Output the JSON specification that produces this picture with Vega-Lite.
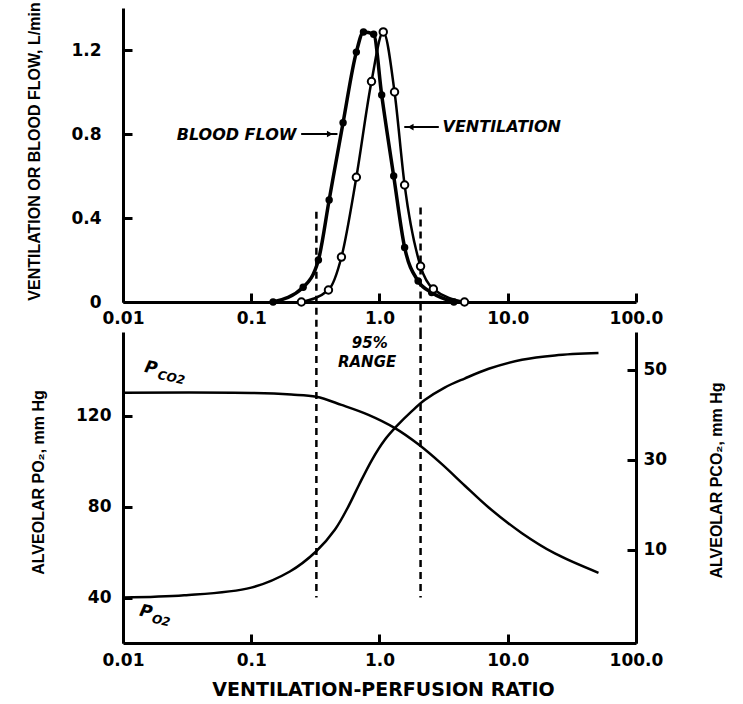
{
  "$schema": "https://vega.github.io/schema/vega-lite/v6.json",
  "autosize": {"type": "pad"},
  "padding": {"left": 25, "top": 1, "right": 5, "bottom": 5},
  "background": "white",
  "spacing": 30,
  "bounds": "flush",
  "config": {
    "view": {"stroke": null},
    "axis": {
      "domainColor": "black", "domainWidth": 3, "tickColor": "black", "tickWidth": 3, "tickSize": -9,
      "labelFont": "DejaVu Sans", "labelFontWeight": "bold", "labelFontSize": 17, "labelColor": "black",
      "titleFont": "Liberation Sans", "titleFontWeight": "bold", "titleFontSize": 16, "titleColor": "black",
      "grid": false
    }
  },
  "datasets": {
    "blood": [
      {"r": 0.148, "v": 0.0}, {"r": 0.254, "v": 0.07}, {"r": 0.334, "v": 0.2}, {"r": 0.405, "v": 0.486},
      {"r": 0.52, "v": 0.854}, {"r": 0.66, "v": 1.19}, {"r": 0.75, "v": 1.286}, {"r": 0.9, "v": 1.275},
      {"r": 1.04, "v": 0.986}, {"r": 1.29, "v": 0.6}, {"r": 1.57, "v": 0.26}, {"r": 2.0, "v": 0.1},
      {"r": 2.55, "v": 0.045}, {"r": 3.8, "v": 0.0}
    ],
    "vent": [
      {"r": 0.246, "v": 0.0}, {"r": 0.4, "v": 0.057}, {"r": 0.505, "v": 0.214}, {"r": 0.66, "v": 0.594},
      {"r": 0.866, "v": 1.05}, {"r": 1.07, "v": 1.286}, {"r": 1.31, "v": 1.0}, {"r": 1.57, "v": 0.557},
      {"r": 2.09, "v": 0.17}, {"r": 2.63, "v": 0.062}, {"r": 4.6, "v": 0.0}
    ],
    "po2": [
      {"r": 0.01, "y": 40}, {"r": 0.03, "y": 41}, {"r": 0.1, "y": 44.4}, {"r": 0.2, "y": 51.5},
      {"r": 0.32, "y": 60.3}, {"r": 0.45, "y": 70}, {"r": 0.57, "y": 80}, {"r": 0.69, "y": 89.5},
      {"r": 0.87, "y": 100.5}, {"r": 1.09, "y": 109.2}, {"r": 1.36, "y": 115.5}, {"r": 1.78, "y": 122},
      {"r": 2.25, "y": 127}, {"r": 3.22, "y": 132.5}, {"r": 4.61, "y": 136.5}, {"r": 7.1, "y": 140.8},
      {"r": 12.9, "y": 144.8}, {"r": 23.3, "y": 146.7}, {"r": 51, "y": 147.7}
    ],
    "pco2": [
      {"r": 0.01, "c": 44.9}, {"r": 0.1, "c": 44.85}, {"r": 0.205, "c": 44.5}, {"r": 0.322, "c": 44.0},
      {"r": 0.505, "c": 42.2}, {"r": 0.82, "c": 40.0}, {"r": 1.31, "c": 37.1}, {"r": 2.02, "c": 33.4},
      {"r": 3.05, "c": 29.1}, {"r": 4.61, "c": 24.3}, {"r": 7.1, "c": 19.4}, {"r": 12.9, "c": 13.7},
      {"r": 23.3, "c": 9.2}, {"r": 51, "c": 4.9}
    ],
    "rangeTop": [{"r": 0.322, "v": 0.43}, {"r": 2.09, "v": 0.45}],
    "rangeBottom": [{"r": 0.322}, {"r": 2.09}],
    "arrows": [{"r": 0.245, "r2": 0.47, "v": 0.8}, {"r": 1.56, "r2": 2.9, "v": 0.833}],
    "bloodLabel": [{"r": 0.225, "v": 0.795, "label": "BLOOD FLOW"}],
    "ventLabel": [{"r": 3.1, "v": 0.833, "label": "VENTILATION"}],
    "headRight": [{"r": 0.41, "v": 0.8}],
    "headLeft": [{"r": 1.75, "v": 0.833}],
    "rangeLabel": [{"r": 0.84, "y": 152.2, "label": "95%"}, {"r": 0.8, "y": 143.8, "label": "RANGE"}],
    "pLabel": [{"r": 0.0165, "y": 141.1, "label": "P"}, {"r": 0.0151, "y": 33.7, "label": "P"}],
    "subLabel": [{"r": 0.0238, "y": 136.9, "label": "CO2"}, {"r": 0.0198, "y": 29.9, "label": "O2"}]
  },
  "vconcat": [
    {
      "width": 513, "height": 294,
      "layer": [
        {
          "data": {"name": "blood"},
          "mark": {"type": "line", "interpolate": "monotone", "color": "black", "strokeWidth": 3.5},
          "encoding": {
            "x": {"field": "r", "type": "quantitative", "scale": {"type": "log", "domain": [0.01, 100]},
                  "axis": {"title": null, "values": [0.01, 0.1, 1, 10, 100], "labelExpr": "datum.value < 1 ? toString(datum.value) : format(datum.value, '.1f')", "labelPadding": 17, "labelFlush": false}},
            "y": {"field": "v", "type": "quantitative", "scale": {"domain": [0, 1.4], "nice": false},
                  "axis": {"title": "VENTILATION OR BLOOD FLOW, L/min", "values": [0, 0.4, 0.8, 1.2], "labelExpr": "datum.value == 0 ? '0' : format(datum.value, '.1f')", "labelPadding": 31,
                           "titleX": -89, "titleY": 143, "titleAngle": -90, "titleAlign": "center", "titleBaseline": "middle"}}
          }
        },
        {
          "data": {"name": "vent"},
          "mark": {"type": "line", "interpolate": "monotone", "color": "black", "strokeWidth": 2.5},
          "encoding": {
            "x": {"field": "r", "type": "quantitative", "scale": {"type": "log", "domain": [0.01, 100]}},
            "y": {"field": "v", "type": "quantitative", "scale": {"domain": [0, 1.4], "nice": false}}
          }
        },
        {
          "data": {"name": "rangeTop"},
          "mark": {"type": "rule", "color": "black", "strokeWidth": 2.5, "strokeDash": [7, 5]},
          "encoding": {
            "x": {"field": "r", "type": "quantitative", "scale": {"type": "log", "domain": [0.01, 100]}},
            "y": {"field": "v", "type": "quantitative", "scale": {"domain": [0, 1.4], "nice": false}},
            "y2": {"datum": -0.143}
          }
        },
        {
          "data": {"name": "blood"},
          "mark": {"type": "point", "filled": true, "color": "black", "size": 55, "opacity": 1},
          "encoding": {
            "x": {"field": "r", "type": "quantitative", "scale": {"type": "log", "domain": [0.01, 100]}},
            "y": {"field": "v", "type": "quantitative", "scale": {"domain": [0, 1.4], "nice": false}}
          }
        },
        {
          "data": {"name": "vent"},
          "mark": {"type": "point", "filled": true, "fill": "white", "stroke": "black", "strokeWidth": 2, "size": 55, "opacity": 1},
          "encoding": {
            "x": {"field": "r", "type": "quantitative", "scale": {"type": "log", "domain": [0.01, 100]}},
            "y": {"field": "v", "type": "quantitative", "scale": {"domain": [0, 1.4], "nice": false}}
          }
        },
        {
          "data": {"name": "arrows"},
          "mark": {"type": "rule", "color": "black", "strokeWidth": 2},
          "encoding": {
            "x": {"field": "r", "type": "quantitative", "scale": {"type": "log", "domain": [0.01, 100]}},
            "x2": {"field": "r2"},
            "y": {"field": "v", "type": "quantitative", "scale": {"domain": [0, 1.4], "nice": false}}
          }
        },
        {
          "data": {"name": "headRight"},
          "mark": {"type": "point", "shape": "triangle-right", "filled": true, "color": "black", "size": 45, "opacity": 1},
          "encoding": {
            "x": {"field": "r", "type": "quantitative", "scale": {"type": "log", "domain": [0.01, 100]}},
            "y": {"field": "v", "type": "quantitative", "scale": {"domain": [0, 1.4], "nice": false}}
          }
        },
        {
          "data": {"name": "headLeft"},
          "mark": {"type": "point", "shape": "triangle-left", "filled": true, "color": "black", "size": 45, "opacity": 1},
          "encoding": {
            "x": {"field": "r", "type": "quantitative", "scale": {"type": "log", "domain": [0.01, 100]}},
            "y": {"field": "v", "type": "quantitative", "scale": {"domain": [0, 1.4], "nice": false}}
          }
        },
        {
          "data": {"name": "bloodLabel"},
          "mark": {"type": "text", "align": "right", "baseline": "middle", "font": "DejaVu Sans", "fontWeight": "bold", "fontStyle": "italic", "fontSize": 16, "color": "black"},
          "encoding": {
            "x": {"field": "r", "type": "quantitative", "scale": {"type": "log", "domain": [0.01, 100]}},
            "y": {"field": "v", "type": "quantitative", "scale": {"domain": [0, 1.4], "nice": false}},
            "text": {"field": "label"}
          }
        },
        {
          "data": {"name": "ventLabel"},
          "mark": {"type": "text", "align": "left", "baseline": "middle", "font": "DejaVu Sans", "fontWeight": "bold", "fontStyle": "italic", "fontSize": 16, "color": "black"},
          "encoding": {
            "x": {"field": "r", "type": "quantitative", "scale": {"type": "log", "domain": [0.01, 100]}},
            "y": {"field": "v", "type": "quantitative", "scale": {"domain": [0, 1.4], "nice": false}},
            "text": {"field": "label"}
          }
        }
      ]
    },
    {
      "width": 513, "height": 311,
      "resolve": {"scale": {"y": "independent"}},
      "layer": [
        {
          "layer": [
            {
              "data": {"name": "po2"},
              "mark": {"type": "line", "interpolate": "catmull-rom", "color": "black", "strokeWidth": 2.5},
              "encoding": {
                "x": {"field": "r", "type": "quantitative", "scale": {"type": "log", "domain": [0.01, 100]},
                      "axis": {"title": "VENTILATION-PERFUSION RATIO", "values": [0.01, 0.1, 1, 10, 100], "labelExpr": "datum.value < 1 ? toString(datum.value) : format(datum.value, '.1f')", "labelPadding": 18, "labelFlush": false,
                               "titleFont": "DejaVu Sans", "titleFontSize": 19, "titleX": 260, "titleY": 46, "titleAlign": "center", "titleBaseline": "middle"}},
                "y": {"field": "y", "type": "quantitative", "scale": {"domain": [20, 157], "nice": false},
                      "axis": {"title": "ALVEOLAR PO₂, mm Hg", "orient": "left", "values": [40, 80, 120], "labelPadding": 21,
                               "titleX": -85, "titleY": 150, "titleAngle": -90, "titleAlign": "center", "titleBaseline": "middle"}}
              }
            },
            {
              "data": {"name": "rangeBottom"},
              "mark": {"type": "rule", "color": "black", "strokeWidth": 2.5, "strokeDash": [7, 5]},
              "encoding": {
                "x": {"field": "r", "type": "quantitative", "scale": {"type": "log", "domain": [0.01, 100]}},
                "y": {"datum": 157, "type": "quantitative", "scale": {"domain": [20, 157], "nice": false}},
                "y2": {"datum": 40}
              }
            },
            {
              "data": {"name": "rangeLabel"},
              "mark": {"type": "text", "align": "center", "baseline": "middle", "font": "DejaVu Sans", "fontWeight": "bold", "fontStyle": "italic", "fontSize": 15, "color": "black"},
              "encoding": {
                "x": {"field": "r", "type": "quantitative", "scale": {"type": "log", "domain": [0.01, 100]}},
                "y": {"field": "y", "type": "quantitative", "scale": {"domain": [20, 157], "nice": false}},
                "text": {"field": "label"}
              }
            },
            {
              "data": {"name": "pLabel"},
              "mark": {"type": "text", "align": "center", "baseline": "middle", "font": "DejaVu Sans", "fontWeight": "bold", "fontStyle": "italic", "fontSize": 17, "angle": 12, "color": "black"},
              "encoding": {
                "x": {"field": "r", "type": "quantitative", "scale": {"type": "log", "domain": [0.01, 100]}},
                "y": {"field": "y", "type": "quantitative", "scale": {"domain": [20, 157], "nice": false}},
                "text": {"field": "label"}
              }
            },
            {
              "data": {"name": "subLabel"},
              "mark": {"type": "text", "align": "center", "baseline": "middle", "font": "DejaVu Sans", "fontWeight": "bold", "fontStyle": "italic", "fontSize": 12, "angle": 12, "color": "black"},
              "encoding": {
                "x": {"field": "r", "type": "quantitative", "scale": {"type": "log", "domain": [0.01, 100]}},
                "y": {"field": "y", "type": "quantitative", "scale": {"domain": [20, 157], "nice": false}},
                "text": {"field": "label"}
              }
            }
          ]
        },
        {
          "data": {"name": "pco2"},
          "mark": {"type": "line", "interpolate": "catmull-rom", "color": "black", "strokeWidth": 2.5},
          "encoding": {
            "x": {"field": "r", "type": "quantitative", "scale": {"type": "log", "domain": [0.01, 100]}},
            "y": {"field": "c", "type": "quantitative", "scale": {"domain": [-10.7, 58.4], "nice": false},
                  "axis": {"title": "ALVEOLAR PCO₂, mm Hg", "orient": "right", "values": [10, 30, 50], "labelPadding": 16,
                           "titleX": 80, "titleY": 148, "titleAngle": -90, "titleAlign": "center", "titleBaseline": "middle"}}
          }
        }
      ]
    }
  ]
}
